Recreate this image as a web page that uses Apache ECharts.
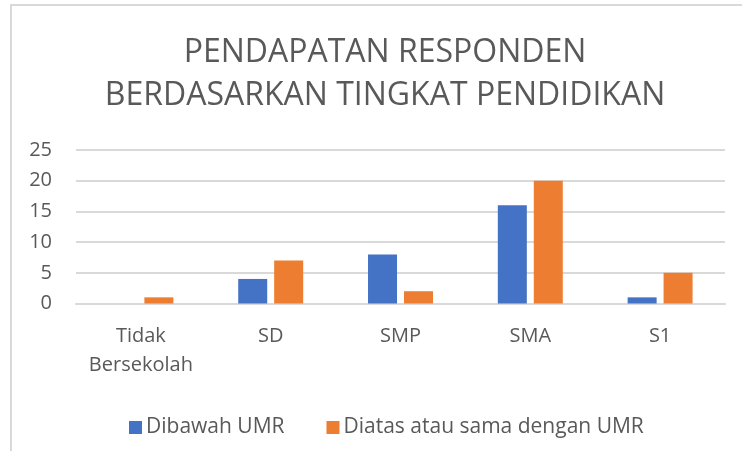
<!DOCTYPE html>
<html>
<head>
<meta charset="utf-8">
<script src="https://cdn.jsdelivr.net/npm/echarts@6/dist/echarts.min.js"></script>
<style>html,body{margin:0;padding:0;background:#fff;}#c{width:742px;height:451px;}</style>
</head>
<body>
<div id="c"></div>
<script>
const categories = ['Tidak\nBersekolah', 'SD', 'SMP', 'SMA', 'S1'];
const seriesNames = ['Dibawah UMR', 'Diatas atau sama dengan UMR'];
const dibawahUMR = [0, 4, 8, 16, 1];
const diatasUMR = [1, 7, 2, 20, 5];
const titleText = 'PENDAPATAN RESPONDEN\nBERDASARKAN TINGKAT PENDIDIKAN';

const font = '"Open Sans", sans-serif';
const chart = echarts.init(document.getElementById('c'), null, {renderer: 'canvas'});
chart.setOption({
  animation: false,
  backgroundColor: '#fff',
  graphic: [{
    type: 'rect',
    shape: {x: 11, y: 5, width: 800, height: 500},
    style: {fill: 'none', stroke: '#d9d9d9', lineWidth: 2},
    silent: true
  }],
  title: {
    text: titleText,
    left: 380,
    textAlign: 'center',
    top: 26,
    textStyle: {fontFamily: font, fontSize: 32, fontWeight: 'normal', color: '#595959', lineHeight: 43}
  },
  legend: {
    data: seriesNames,
    left: 124,
    top: 412,
    itemWidth: 13,
    itemHeight: 13,
    itemGap: 42,
    icon: 'rect',
    textStyle: {fontFamily: font, fontSize: 21, color: '#595959', padding: [0, 0, 0, -1]}
  },
  grid: {left: 76, right: 17, top: 150, bottom: 147.5, containLabel: false},
  xAxis: {
    type: 'category',
    data: categories,
    axisLine: {show: true, lineStyle: {color: '#d9d9d9', width: 2}},
    axisTick: {show: false},
    axisLabel: {fontFamily: font, fontSize: 20, color: '#595959', lineHeight: 29, margin: 18, interval: 0, verticalAlign: 'top'}
  },
  yAxis: {
    type: 'value',
    min: 0, max: 25, interval: 5,
    axisLine: {show: false},
    axisTick: {show: false},
    splitLine: {lineStyle: {color: '#d9d9d9', width: 2}},
    axisLabel: {fontFamily: font, fontSize: 20, color: '#595959', margin: 24}
  },
  series: [
    {name: seriesNames[0], type: 'bar', data: dibawahUMR, barWidth: 29, barGap: '24%', itemStyle: {color: '#4472C4'}},
    {name: seriesNames[1], type: 'bar', data: diatasUMR, barWidth: 29, barGap: '24%', itemStyle: {color: '#ED7D31'}}
  ]
});
</script>
</body>
</html>
